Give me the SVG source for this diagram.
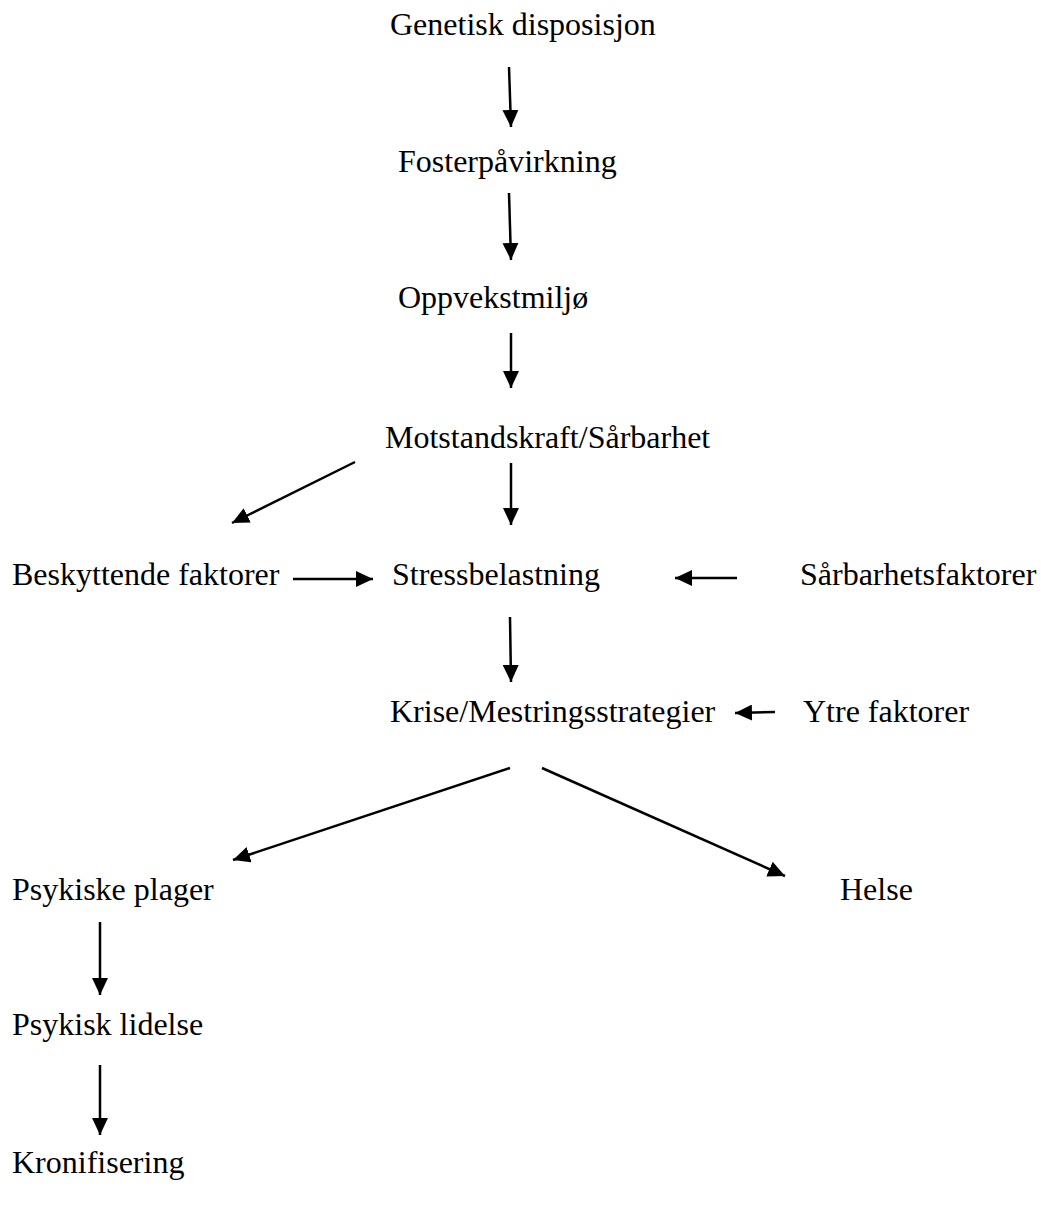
<svg xmlns="http://www.w3.org/2000/svg" width="1041" height="1213" viewBox="0 0 1041 1213">
<style>
text{font-family:"Liberation Serif","Times New Roman",serif;font-size:32px;fill:#000}
.c line{stroke:#000;stroke-width:2.5;marker-end:url(#ah)}
</style>
<defs>
<marker id="ah" markerUnits="userSpaceOnUse" markerWidth="18" markerHeight="16" refX="17" refY="8" orient="auto">
<path d="M0,0 L17,8 L0,16 z" fill="#000"/>
</marker>
</defs>
<rect width="1041" height="1213" fill="#fff"/>
<g id="n1"><text x="390" y="35">Genetisk disposisjon</text></g>
<g id="n2"><text x="398" y="172">Fosterpåvirkning</text></g>
<g id="n3"><text x="398" y="308">Oppvekstmiljø</text></g>
<g id="n4"><text x="385" y="448">Motstandskraft/Sårbarhet</text></g>
<g id="n5"><text x="12" y="585">Beskyttende faktorer</text></g>
<g id="n6"><text x="392" y="585">Stressbelastning</text></g>
<g id="n7"><text x="800" y="585">Sårbarhetsfaktorer</text></g>
<g id="n8"><text x="390" y="722">Krise/Mestringsstrategier</text></g>
<g id="n9"><text x="803" y="722">Ytre faktorer</text></g>
<g id="n10"><text x="12" y="900">Psykiske plager</text></g>
<g id="n11"><text x="840" y="900">Helse</text></g>
<g id="n12"><text x="12" y="1035">Psykisk lidelse</text></g>
<g id="n13"><text x="12" y="1173">Kronifisering</text></g>
<g id="connectors" class="c">
<line x1="509" y1="67" x2="511" y2="127"/>
<line x1="509" y1="193" x2="511" y2="260"/>
<line x1="511" y1="333" x2="511" y2="388"/>
<line x1="355" y1="462" x2="232" y2="523"/>
<line x1="511" y1="463" x2="511" y2="525"/>
<line x1="293" y1="579" x2="373" y2="579"/>
<line x1="737" y1="578" x2="675" y2="578"/>
<line x1="510" y1="617" x2="511" y2="682"/>
<line x1="775" y1="712" x2="735" y2="713"/>
<line x1="510" y1="768" x2="233" y2="860"/>
<line x1="542" y1="768" x2="785" y2="876"/>
<line x1="100" y1="922" x2="100" y2="995"/>
<line x1="100" y1="1065" x2="100" y2="1135"/>
</g>
</svg>
